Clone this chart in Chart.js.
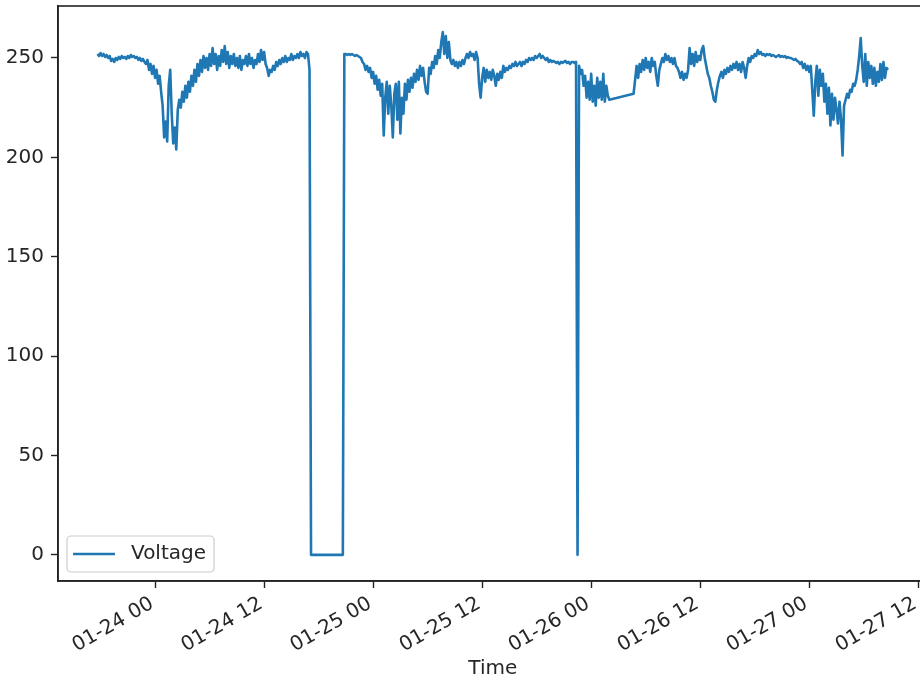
<!DOCTYPE html>
<html>
<head>
<meta charset="utf-8">
<script src="https://cdn.jsdelivr.net/npm/chart.js@4.4.1/dist/chart.umd.min.js"></script>
<style>
  html, body { margin: 0; padding: 0; background: #fff; overflow: hidden; width: 920px; height: 681px; }
  #wrap { width: 940px; height: 681px; }
</style>
</head>
<body>
<div id="wrap"><canvas id="c" width="940" height="681"></canvas></div>
<script>
// Logger sampling: one reading every 10 minutes starting at this time
const firstReading = '01-23 17:40';
const stepMinutes = 10;

// Supply voltage readings (V), one row per hour; null = no reading logged
const voltage = [
  252, 251,                                   // 01-23 17:40
  252.5, 251, 252, 250.5, 251.5, 250,         // 18:00
  251, 248.5, 249.5, 248, 250, 249,           // 19:00
  250.5, 249.5, 251, 250, 250.5, 249.5,       // 20:00
  251, 250, 251.5, 250.5, 251, 250,           // 21:00
  250.5, 249, 250, 248.5, 249.5, 248,         // 22:00
  247, 249, 244, 247, 242, 246,               // 23:00
  240, 244, 237, 241, 233, 226,               // 01-24 00:00
  210, 218, 208, 236, 244, 222,               // 01:00
  207, 215, 204, 224, 229, 225,               // 02:00
  233, 228, 236, 230, 238, 233,               // 03:00
  241, 236, 244, 238, 247, 241,               // 04:00
  249, 243, 251, 245, 250, 244,               // 05:00
  252, 246, 255, 247, 252, 244,               // 06:00
  251, 246, 254, 248, 256, 247,               // 07:00
  253, 245, 251, 247, 252, 246,               // 08:00
  250, 245, 251, 244, 249, 247,               // 09:00
  251, 246, 252, 247, 250, 245,               // 10:00
  249, 247, 252, 248, 254, 249,               // 11:00
  253, 247, 245, 241, 244, 243,               // 12:00
  246, 244, 248, 246, 249, 247,               // 13:00
  250, 248, 251, 248, 250, 249,               // 14:00
  252, 249, 251, 250, 252, 250,               // 15:00
  253, 251, 252, 250, 253, 252,               // 16:00
  244, 0, 0, 0, 0, 0,                         // 17:00 supply lost
  0, 0, 0, 0, 0, 0,                           // 18:00
  0, 0, 0, 0, 0, 0,                           // 19:00
  0, 0, 0, 0, 0, 252,                         // 20:00 supply back
  252, 251.5, 252, 251.5, 252, 251.5,         // 21:00
  251, 251.5, 251, 250.5, 250, 248,           // 22:00
  247, 244, 246, 243, 245, 240,               // 23:00
  243, 237, 241, 234, 239, 231,               // 01-25 00:00
  237, 211, 230, 238, 222, 236,               // 01:00
  226, 210, 232, 237, 219, 238,               // 02:00
  212, 230, 222, 237, 229, 239,               // 03:00
  233, 240, 235, 242, 238, 244,               // 04:00
  239, 246, 241, 245, 238, 233,               // 05:00
  232, 245, 242, 248, 245, 251,               // 06:00
  247, 254, 250, 258, 263, 252,               // 07:00
  261, 250, 258, 249, 247, 249,               // 08:00
  246, 248, 245, 248, 246, 249,               // 09:00
  247, 250, 252, 250, 253, 251,               // 10:00
  252, 249, 253, 250, 237, 230,               // 11:00
  240, 245, 238, 244, 240, 243,               // 12:00
  239, 244, 241, 236, 242, 239,               // 13:00
  243, 240, 246, 243, 245, 244,               // 14:00
  246, 245, 247, 246, 248, 246,               // 15:00
  247, 248, 246, 248, 247, 249,               // 16:00
  248, 250, 249, 250, 249, 251,               // 17:00
  250, 251, 252, 250, 251, 250,               // 18:00
  249, 250, 248, 249, 248, 248.5,             // 19:00
  248, 247.5, 248, 247, 248, 247.5,           // 20:00
  248, 248.5, 247.5, 248, 247, 248,           // 21:00
  248, 247.5, 248, 0, 246, 242,               // 22:00 momentary dropout
  244, 236, 241, 230, 238, 229,               // 23:00
  242, 228, 236, 226, 240, 230,               // 01-26 00:00
  238, 229, 242, 228, 236, 231,               // 01:00
  229, null, null, null, null, null,          // 02:00 logger offline
  null, null, null, null, null, null,         // 03:00
  null, null, null, null, 232, 239,           // 04:00 logger back
  246, 240, 247, 243, 249, 244,               // 05:00
  250, 245, 248, 243, 250, 246,               // 06:00
  248, 241, 236, 244, 247, 250,               // 07:00
  248, 252, 249, 251, 248, 250,               // 08:00
  247, 250, 246, 245, 243, 240,               // 09:00
  243, 239, 242, 240, 244, 255,               // 10:00
  247, 252, 246, 253, 248, 251,               // 11:00
  249, 254, 256, 250, 246, 242,               // 12:00
  240, 236, 233, 229, 228, 234,               // 13:00
  238, 241, 243, 240, 244, 242,               // 14:00
  245, 243, 246, 244, 247, 245,               // 15:00
  248, 244, 247, 243, 248, 245,               // 16:00
  240, 246, 250, 248, 251, 250,               // 17:00
  252, 251, 254, 252, 253, 251.5,             // 18:00
  252, 251, 252, 251.5, 252, 251,             // 19:00
  251.5, 251, 250.5, 251, 251.5, 250.5,       // 20:00
  251, 250.5, 251, 250, 250.5, 250,           // 21:00
  250, 249.5, 249, 249.5, 248.5, 248,         // 22:00
  247, 248, 245, 247, 244, 246,               // 23:00
  243, 246, 234, 221, 238, 246,               // 01-27 00:00
  231, 244, 236, 242, 228, 237,               // 01:00
  222, 235, 216, 232, 219, 230,               // 02:00
  224, 217, 228, 219, 201, 226,               // 03:00
  229, 232, 230, 234, 233, 237,               // 04:00
  236, 239, 244, 251, 260, 246,               // 05:00
  238, 252, 236, 248, 240, 246,               // 06:00
  237, 245, 236, 243, 238, 247,               // 07:00
  239, 248, 240, 245, 244                     // 08:00
];

// Axis ticks
const timeTickLabels = ['01-24 00', '01-24 12', '01-25 00', '01-25 12', '01-26 00', '01-26 12', '01-27 00', '01-27 12'];
const voltTicks = [0, 50, 100, 150, 200, 250];
const seriesLabel = 'Voltage';
const xAxisTitle = 'Time';

// 'MM-DD HH[:MM]' -> hours after 01-24 00:00
function toHours(s) {
  const day = +s.slice(3, 5), hr = +s.slice(6, 8);
  const min = s.length > 8 ? +s.slice(9, 11) : 0;
  return (day - 24) * 24 + hr + min / 60;
}

const t0 = toHours(firstReading);
const points = voltage.map((v, i) => ({ x: t0 + i * stepMinutes / 60, y: v }));
const timeTicks = timeTickLabels.map(toHours);

// 5% autoscale margins on both axes
const xs = points.map(p => p.x);
const ys = voltage.filter(v => v !== null);
const xLo = Math.min(...xs), xHi = Math.max(...xs);
const yLo = Math.min(...ys), yHi = Math.max(...ys);
const xPad = (xHi - xLo) * 0.05, yPad = (yHi - yLo) * 0.05;

const FONT = "'DejaVu Sans', sans-serif";
const INK = '#262626';
const AXIS = '#222';

// Full box around the plotting area
const frame = {
  id: 'frame',
  afterDatasetsDraw(chart) {
    const { ctx, chartArea: a } = chart;
    ctx.save();
    ctx.strokeStyle = AXIS;
    ctx.lineWidth = 1.6;
    ctx.strokeRect(a.left, a.top, a.right - a.left, a.bottom - a.top);
    ctx.restore();
  }
};

// Legend box in the lower-left corner of the plotting area
const cornerLegend = {
  id: 'cornerLegend',
  afterDraw(chart) {
    const { ctx, chartArea: a } = chart;
    const ds = chart.data.datasets[0];
    const fs = 20;
    ctx.save();
    ctx.font = fs + 'px ' + FONT;
    const tw = ctx.measureText(ds.label).width;
    const pad = 0.4 * fs, handle = 2 * fs, gap = 0.8 * fs;
    const w = pad * 2 + handle + gap + tw, h = 36;
    const x = a.left + 9, y = a.bottom - 9 - h;
    const r = 4;
    ctx.beginPath();
    ctx.moveTo(x + r, y);
    ctx.arcTo(x + w, y, x + w, y + h, r);
    ctx.arcTo(x + w, y + h, x, y + h, r);
    ctx.arcTo(x, y + h, x, y, r);
    ctx.arcTo(x, y, x + w, y, r);
    ctx.closePath();
    ctx.fillStyle = 'rgba(255,255,255,0.8)';
    ctx.fill();
    ctx.strokeStyle = '#cccccc';
    ctx.lineWidth = 1.2;
    ctx.stroke();
    const cy = y + h / 2;
    ctx.beginPath();
    ctx.moveTo(x + pad - 2, cy);
    ctx.lineTo(x + pad + handle, cy);
    ctx.strokeStyle = ds.borderColor;
    ctx.lineWidth = ds.borderWidth;
    ctx.stroke();
    ctx.fillStyle = INK;
    ctx.textBaseline = 'middle';
    ctx.textAlign = 'left';
    ctx.fillText(ds.label, x + pad + handle + gap, cy);
    ctx.restore();
  }
};

new Chart(document.getElementById('c').getContext('2d'), {
  type: 'line',
  data: {
    datasets: [{
      label: seriesLabel,
      data: points,
      borderColor: '#1f77b4',
      borderWidth: 2.6,
      borderJoinStyle: 'round',
      pointRadius: 0,
      tension: 0,
      spanGaps: true,
      fill: false
    }]
  },
  options: {
    responsive: false,
    animation: false,
    devicePixelRatio: 1,
    layout: { padding: { top: 6, right: 12.5, left: 0, bottom: 0 } },
    plugins: { legend: { display: false }, tooltip: { enabled: false } },
    scales: {
      x: {
        type: 'linear',
        min: xLo - xPad,
        max: xHi + xPad,
        afterBuildTicks: s => { s.ticks = timeTicks.map(v => ({ value: v })); },
        afterFit: s => { s.height = 100; s.paddingLeft = 0; s.paddingRight = 0; },
        ticks: {
          autoSkip: false,
          minRotation: 30,
          maxRotation: 30,
          padding: 4,
          labelOffset: -3,
          color: INK,
          font: { family: FONT, size: 20 },
          callback: v => timeTickLabels[timeTicks.indexOf(v)]
        },
        grid: { drawOnChartArea: false, drawTicks: true, tickLength: 7, tickColor: AXIS, tickWidth: 1.4 },
        border: { display: true, color: AXIS, width: 1.6 },
        title: { display: true, text: xAxisTitle, color: INK, font: { family: FONT, size: 20 }, padding: { top: 0, bottom: 0 } }
      },
      y: {
        type: 'linear',
        min: yLo - yPad,
        max: yHi + yPad,
        afterBuildTicks: s => { s.ticks = voltTicks.map(v => ({ value: v })); },
        afterFit: s => { s.width = 58; s.paddingTop = 0; s.paddingBottom = 0; },
        ticks: {
          padding: 7,
          color: INK,
          font: { family: FONT, size: 20 },
          callback: v => String(v)
        },
        grid: { drawOnChartArea: false, drawTicks: true, tickLength: 7, tickColor: AXIS, tickWidth: 1.4 },
        border: { display: true, color: AXIS, width: 1.6 }
      }
    }
  },
  plugins: [frame, cornerLegend]
});
</script>
</body>
</html>
